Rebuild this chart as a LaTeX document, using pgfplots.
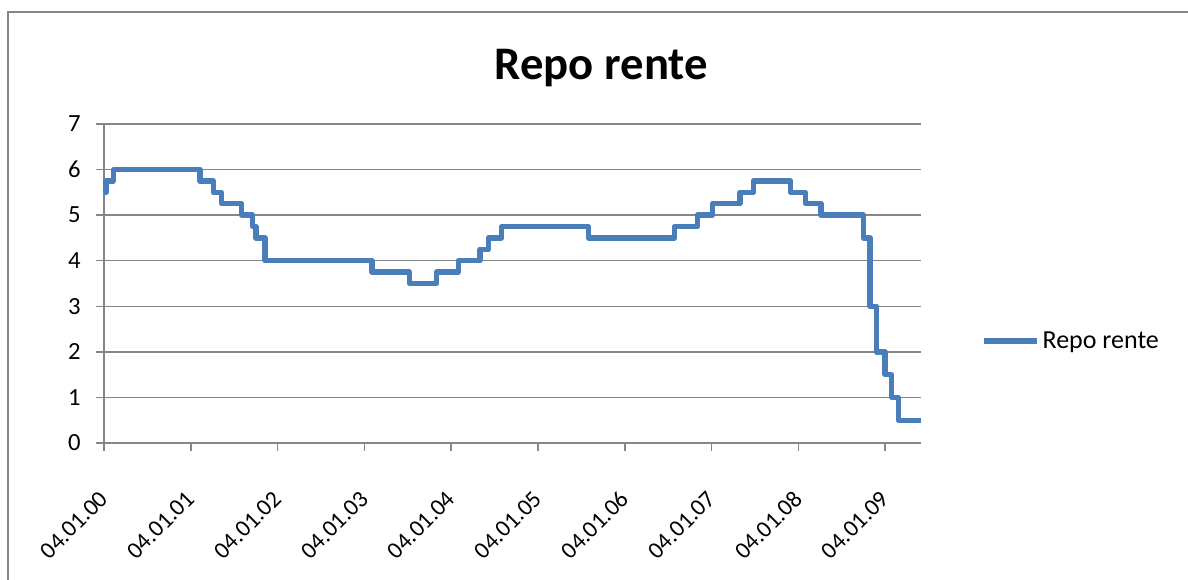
\documentclass[border=0pt]{standalone}
\usepackage{pgfplots}
\pgfplotsset{compat=1.18}
\usepackage{fontspec}
\setmainfont{Carlito}
\definecolor{excelblue}{HTML}{4A7EBB}
\definecolor{gridgray}{HTML}{868686}
\begin{document}
\begin{tikzpicture}
\path[use as bounding box] (-78pt,-102.75pt) rectangle (813pt,332.25pt);
\draw[gridgray,line width=1.5pt] (-72pt,-110pt) -- (-72pt,323.25pt) -- (820pt,323.25pt);
\node[font=\fontsize{35}{40}\selectfont\bfseries] at (373pt,281pt) {Repo rente};
\begin{axis}[
  at={(0,0)}, anchor=south west,
  scale only axis, width=612.75pt, height=239.25pt,
  xmin=0, xmax=9.413, ymin=0, ymax=7,
  axis lines=left, axis line style={-, gridgray, line width=1.1pt},
  xtick={0,1,2,3,4,5,6,7,8,9},
  xticklabels={04.01.00,04.01.01,04.01.02,04.01.03,04.01.04,04.01.05,04.01.06,04.01.07,04.01.08,04.01.09},
  ytick={0,1,2,3,4,5,6,7},
  tick align=outside, major tick length=6pt,
  tick style={gridgray, line width=1.1pt},
  ymajorgrids, major grid style={gridgray, line width=1.1pt},
  /pgf/number format/assume math mode=true,
  yticklabel style={font=\fontsize{18.5}{22}\selectfont},
  xticklabel style={font=\fontsize{17.8}{21}\selectfont, rotate=45, anchor=east, inner sep=0pt},
  xticklabel shift=33pt,
  yticklabel shift=8pt,
  legend style={draw=none, fill=none, at={(axis description cs:1,0.32)}, anchor=west, xshift=42pt, font=\fontsize{19.5}{23}\selectfont},
  legend image code/.code={\draw[#1] (0pt,0pt) -- (40pt,0pt);},
  clip=false,
]
\addplot[const plot, excelblue, line width=4pt, line join=round] table {
x y
0 5.5
0.023 5.75
0.107 6.0
1.106 5.75
1.259 5.5
1.356 5.25
1.586 5.0
1.713 4.75
1.751 4.5
1.855 4.0
3.088 3.75
3.517 3.5
3.833 3.75
4.082 4.0
4.332 4.25
4.427 4.5
4.582 4.75
5.580 4.5
6.570 4.75
6.840 5.0
7.013 5.25
7.327 5.5
7.480 5.75
7.911 5.5
8.084 5.25
8.260 5.0
8.748 4.5
8.825 3.0
8.902 2.0
8.998 1.5
9.075 1.0
9.151 0.5
9.413 0.5
};
\addlegendentry{Repo rente}
\end{axis}
\end{tikzpicture}
\end{document}
